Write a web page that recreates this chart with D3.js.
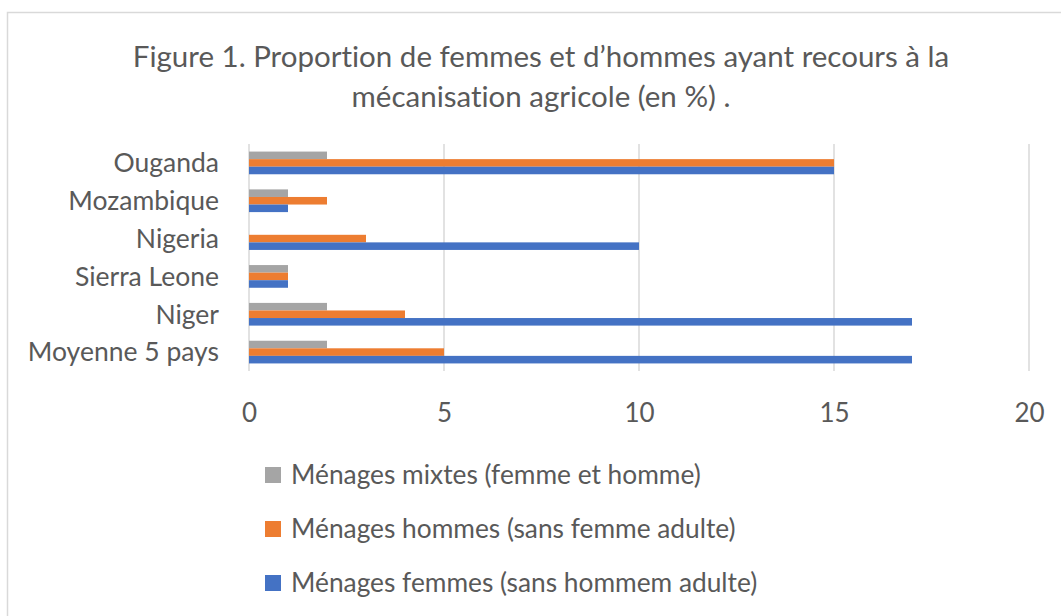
<!DOCTYPE html>
<html>
<head>
<meta charset="utf-8">
<script src="https://cdn.jsdelivr.net/npm/d3@7"></script>
<style>
  body { margin: 0; background: #fff; }
  svg { display: block; font-family: Lato, "Open Sans", sans-serif; font-variant-ligatures: none; }
</style>
</head>
<body>
<svg id="chart" width="1061" height="616"></svg>
<script>
// Categories, top to bottom
const countries = ["Ouganda", "Mozambique", "Nigeria", "Sierra Leone", "Niger", "Moyenne 5 pays"];

// Series (drawn top to bottom within each group)
const seriesNames = [
    "Ménages mixtes (femme et homme)",
    "Ménages hommes (sans femme adulte)",
    "Ménages femmes (sans hommem adulte)"
];
const mixtes  = [2, 1, 0, 1, 2, 2];
const hommes  = [15, 2, 3, 1, 4, 5];
const femmes  = [15, 1, 10, 1, 17, 17];
const xTicks  = [0, 5, 10, 15, 20];

const colors = ["#a5a5a5", "#ed7d31", "#4472c4"];
const textColor = "#595959";

const svg = d3.select("#chart");

// Outer chart frame
svg.append("rect")
    .attr("x", 7.5).attr("y", 12.5)
    .attr("width", 1100).attr("height", 700)
    .attr("fill", "#fff")
    .attr("stroke", "#d9d9d9")
    .attr("stroke-width", 1.5);

// Title
const title = svg.append("text")
    .attr("text-anchor", "middle")
    .attr("fill", textColor)
    .attr("font-size", 29.5);
title.append("tspan").attr("x", 541).attr("y", 67)
    .text("Figure 1. Proportion de femmes et d’hommes ayant recours à la");
title.append("tspan").attr("x", 541).attr("y", 107)
    .text("mécanisation agricole (en %) .");

// Scales
const x = d3.scaleLinear().domain([0, 20]).range([249, 1029]);
const y = d3.scaleBand().domain(countries).range([144, 371]);
const groupWidth = y.bandwidth() * 0.6;
const yInner = d3.scaleBand().domain(d3.range(3)).range([0, groupWidth]);

// Gridlines
svg.append("g")
    .selectAll("line")
    .data(xTicks)
    .join("line")
    .attr("x1", d => x(d)).attr("x2", d => x(d))
    .attr("y1", 144).attr("y2", 371)
    .attr("stroke", "#d9d9d9")
    .attr("stroke-width", 1.5);

// Bars
const series = [mixtes, hommes, femmes];
const groups = svg.append("g")
    .selectAll("g")
    .data(countries)
    .join("g")
    .attr("transform", d => `translate(0,${y(d) + (y.bandwidth() - groupWidth) / 2})`);

groups.selectAll("rect")
    .data((c, i) => series.map((s, k) => ({ k, v: s[i] })))
    .join("rect")
    .attr("x", x(0))
    .attr("y", d => yInner(d.k))
    .attr("width", d => x(d.v) - x(0))
    .attr("height", yInner.bandwidth())
    .attr("fill", d => colors[d.k]);

// Category axis labels
svg.append("g")
    .selectAll("text")
    .data(countries)
    .join("text")
    .attr("x", 219)
    .attr("y", d => y(d) + y.bandwidth() / 2)
    .attr("dy", "0.35em")
    .attr("text-anchor", "end")
    .attr("fill", textColor)
    .attr("font-size", 26.5)
    .text(d => d);

// Value axis
const xAxis = svg.append("g")
    .attr("transform", "translate(0,371)")
    .call(d3.axisBottom(x).tickValues(xTicks).tickSize(0).tickPadding(33));
xAxis.select(".domain").remove();
xAxis.selectAll("text")
    .attr("fill", textColor)
    .attr("font-size", 26)
    .attr("font-family", "Lato, 'Open Sans', sans-serif");

// Legend
const legend = svg.append("g")
    .selectAll("g")
    .data(seriesNames)
    .join("g")
    .attr("transform", (d, i) => `translate(265,${475 + i * 54})`);
legend.append("rect")
    .attr("x", 0).attr("y", -8)
    .attr("width", 16).attr("height", 16)
    .attr("fill", (d, i) => colors[i]);
legend.append("text")
    .attr("x", 26).attr("dy", "0.35em")
    .attr("fill", textColor)
    .attr("font-size", 26.3)
    .text(d => d);
</script>
</body>
</html>
